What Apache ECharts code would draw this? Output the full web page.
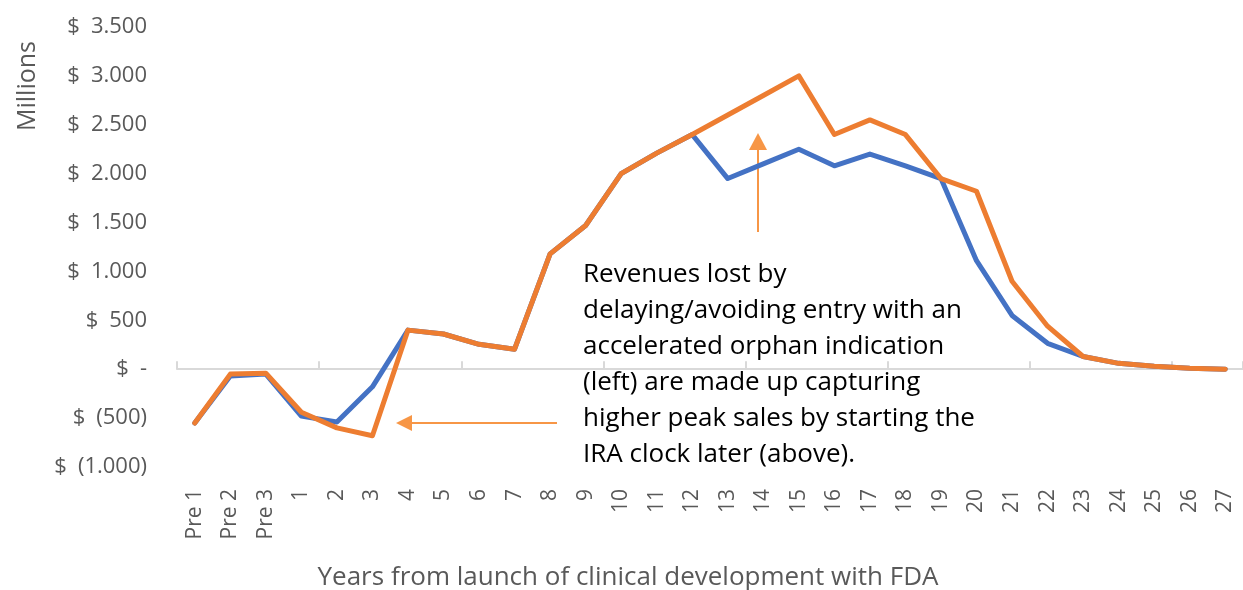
<!DOCTYPE html>
<html>
<head>
<meta charset="utf-8">
<script src="https://cdn.jsdelivr.net/npm/echarts@6/dist/echarts.min.js"></script>
<style>
  html, body { margin: 0; padding: 0; background: #fff; }
  #chart { width: 1243px; height: 590px; }
</style>
</head>
<body>
<div id="chart"></div>
<script>
// years on the x axis
var years = ['Pre 1', 'Pre 2', 'Pre 3', '1', '2', '3', '4', '5', '6', '7', '8', '9', '10',
  '11', '12', '13', '14', '15', '16', '17', '18', '19', '20', '21', '22', '23', '24', '25', '26', '27'];

// $ millions
var accelerated = [-550, -70, -50, -480, -540, -180, 400, 360, 255, 205, 1180, 1470, 2000,
  2210, 2400, 1950, 2100, 2250, 2080, 2200, 2080, 1950, 1110, 550, 265, 130, 60, 30, 10, 0];
var delayed = [-550, -50, -40, -440, -600, -680, 400, 360, 255, 205, 1180, 1470, 2000,
  2210, 2400, 2600, 2800, 3000, 2400, 2550, 2400, 1950, 1820, 900, 440, 130, 60, 30, 10, 0];

var noteLines = [
  'Revenues lost by',
  'delaying/avoiding entry with an',
  'accelerated orphan indication',
  '(left) are made up capturing',
  'higher peak sales by starting the',
  'IRA clock later (above).'
];

var FONT = '"Open Sans", Lato, sans-serif';
var GREY = '#595959';
var ARROW = '#F79646';

function money(v) {
  if (v === 0) return '$\u2002-';
  var s = Math.abs(v).toString().replace(/\B(?=(\d{3})+(?!\d))/g, '.');
  return v < 0 ? '$\u2002(' + s + ')' : '$\u2002' + s;
}

var chart = echarts.init(document.getElementById('chart'));

var graphics = [
  {
    type: 'text', x: 28, y: 86, rotation: Math.PI / 2,
    style: { text: 'Millions', fill: GREY, font: '25px ' + FONT, textAlign: 'center', textVerticalAlign: 'middle' }
  },
  {
    type: 'text', x: 628, y: 578,
    style: { text: 'Years from launch of clinical development with FDA', fill: GREY, font: '26px ' + FONT,
      textAlign: 'center', textVerticalAlign: 'middle' }
  },
  // horizontal arrow
  { type: 'line', shape: { x1: 557, y1: 423, x2: 410, y2: 423 }, style: { stroke: ARROW, lineWidth: 2 } },
  { type: 'polygon', shape: { points: [[396, 423], [412, 415], [412, 431]] }, style: { fill: ARROW } },
  // vertical arrow
  { type: 'line', shape: { x1: 758, y1: 232, x2: 758, y2: 148 }, style: { stroke: ARROW, lineWidth: 2 } },
  { type: 'polygon', shape: { points: [[758, 133], [749, 150], [767, 150]] }, style: { fill: ARROW } }
];

noteLines.forEach(function (t, i) {
  graphics.push({
    type: 'text', x: 583, y: 275 + i * 36,
    style: { text: t, fill: '#000', font: '26px ' + FONT, textVerticalAlign: 'middle' }
  });
});

var option = {
  animation: false,
  backgroundColor: '#fff',
  grid: { left: 177, right: -8, top: 27, bottom: 123, containLabel: false },
  xAxis: [{
    type: 'category',
    data: years,
    position: 'bottom',
    axisLine: { show: false, onZero: false },
    axisTick: { show: false },
    axisLabel: { rotate: 90, margin: 22, color: GREY, fontSize: 21, fontFamily: FONT, interval: 0 }
  }, {
    type: 'category',
    data: years,
    position: 'bottom',
    axisLine: { show: true, onZero: true, lineStyle: { color: '#D9D9D9', width: 2 } },
    axisTick: { show: true, inside: true, interval: 3, length: 8, lineStyle: { color: '#D9D9D9', width: 2 } },
    axisLabel: { show: false }
  }],
  yAxis: {
    type: 'value',
    min: -1000,
    max: 3500,
    interval: 500,
    splitLine: { show: false },
    axisLine: { show: false },
    axisTick: { show: false },
    axisLabel: { color: GREY, fontSize: 22, fontFamily: FONT, margin: 30, formatter: money }
  },
  series: [{
    name: 'Accelerated orphan entry',
    type: 'line',
    data: accelerated,
    symbol: 'none',
    lineStyle: { color: '#4472C4', width: 5, cap: 'round', join: 'round' },
    z: 2
  }, {
    name: 'Delayed entry',
    type: 'line',
    data: delayed,
    symbol: 'none',
    lineStyle: { color: '#ED7D31', width: 5, cap: 'round', join: 'round' },
    z: 3
  }],
  graphic: graphics
};

chart.setOption(option);
</script>
</body>
</html>
